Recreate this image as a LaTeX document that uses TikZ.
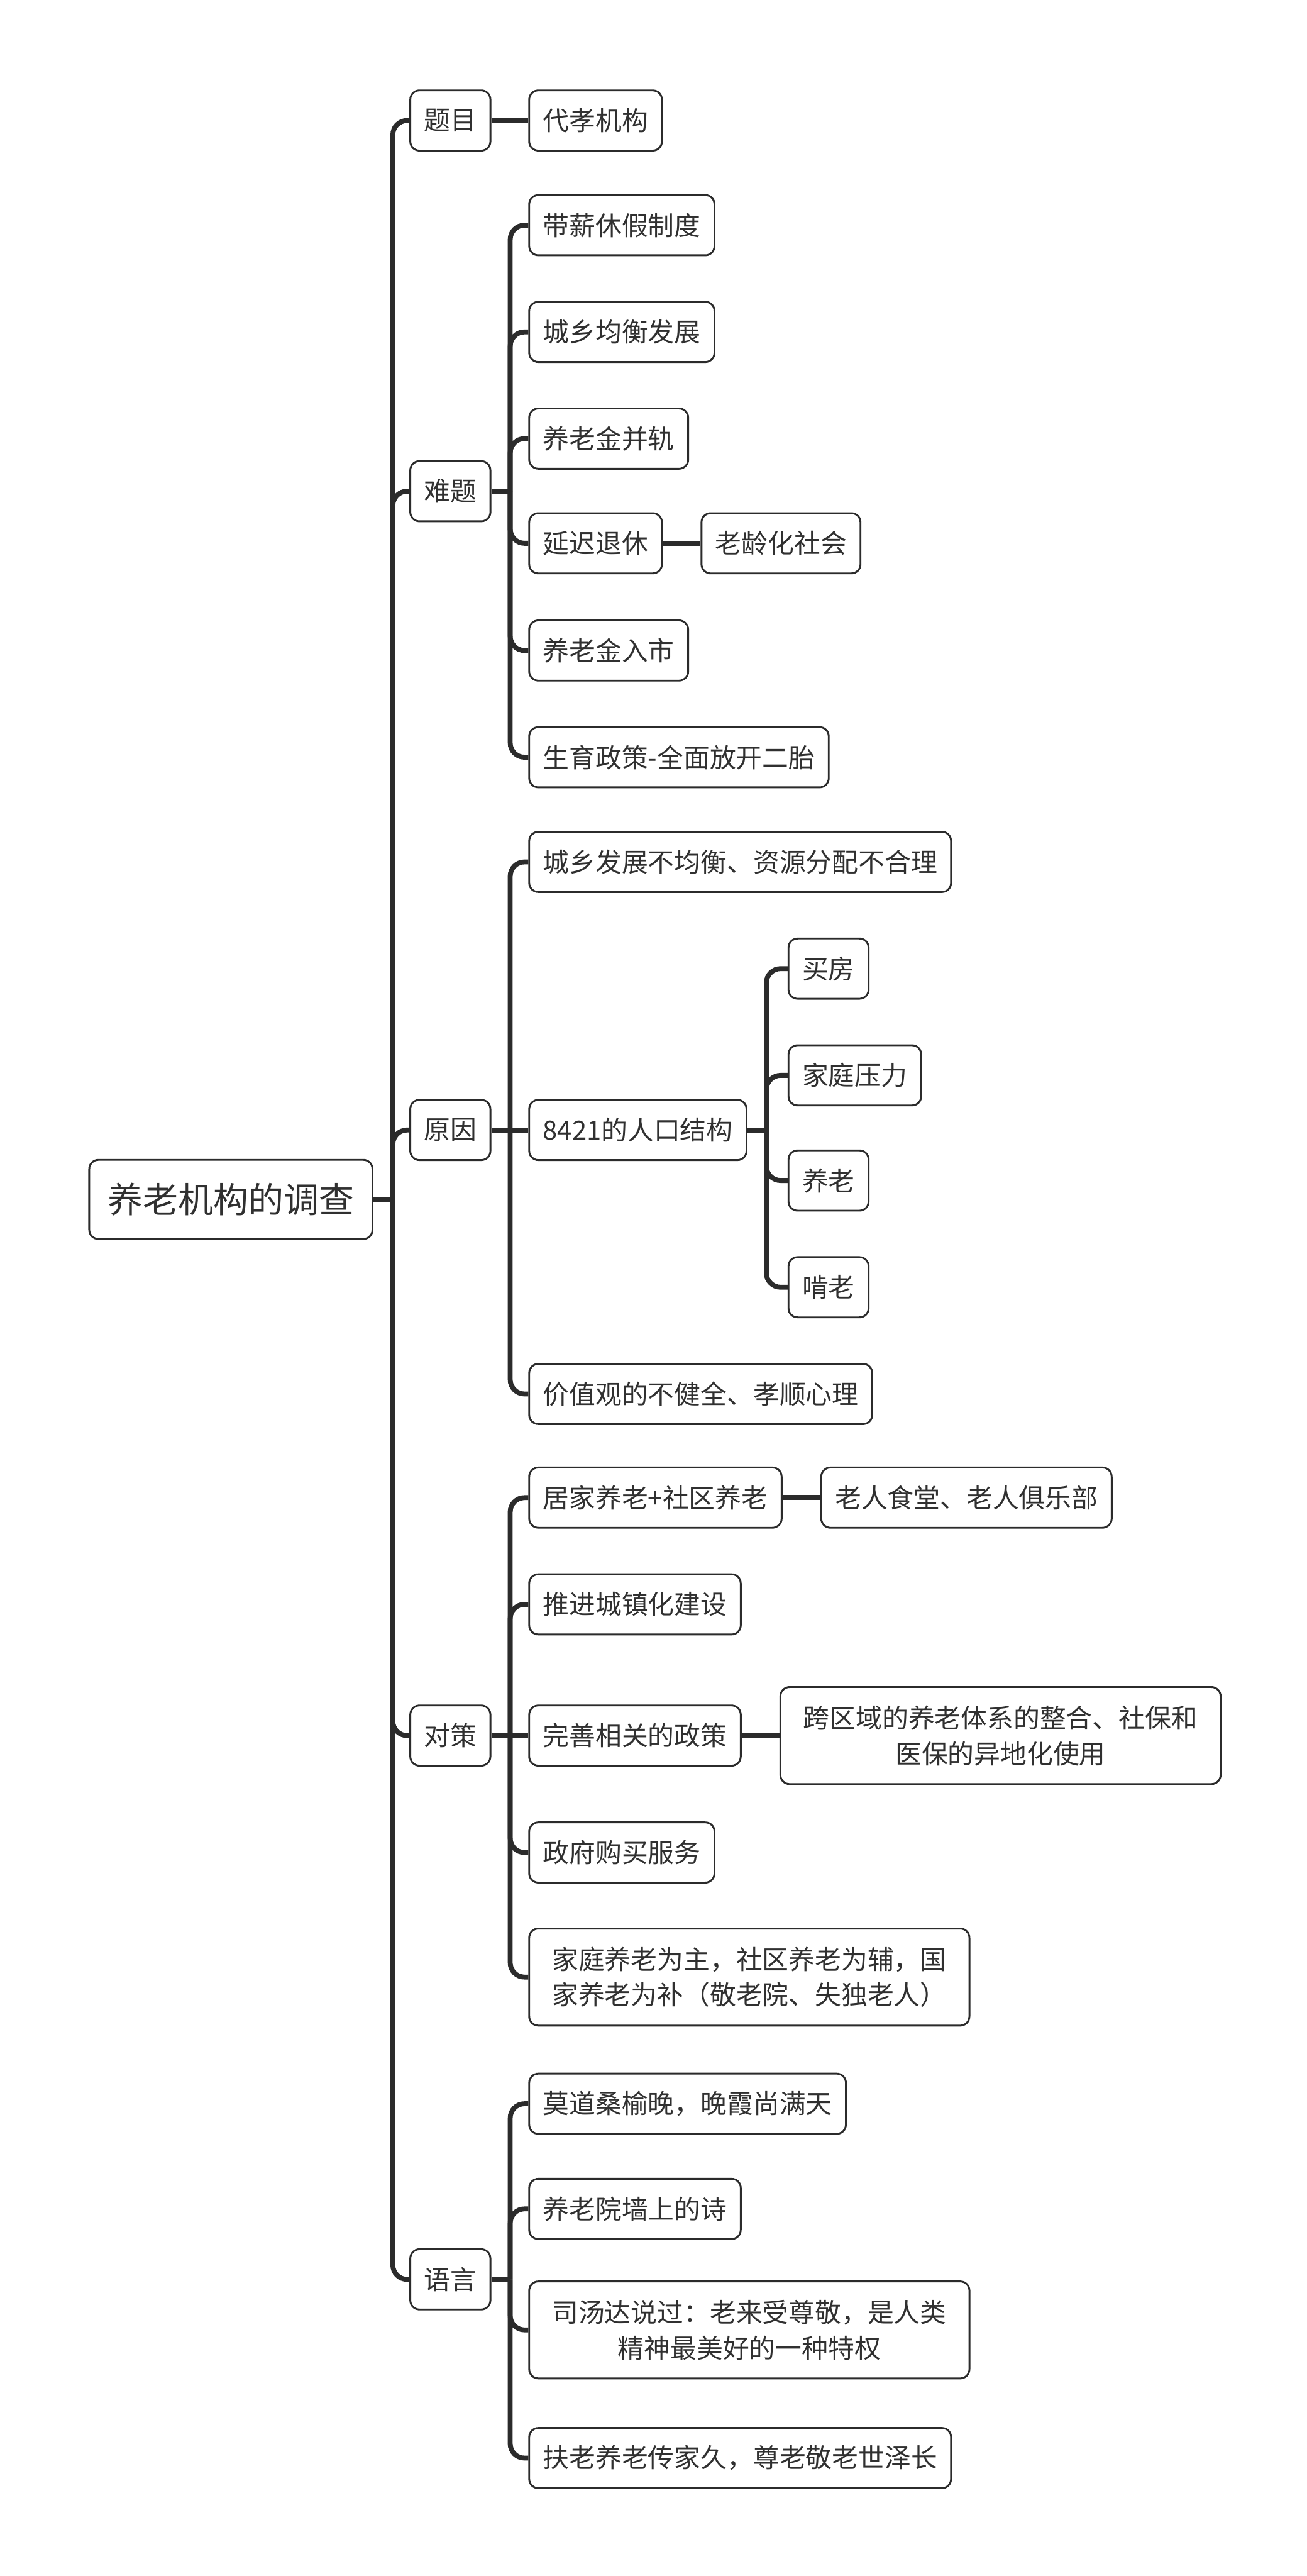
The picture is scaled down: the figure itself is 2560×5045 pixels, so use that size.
\documentclass[tikz,border=0pt]{standalone}
\usepackage{fontspec}
\setmainfont{Noto Sans CJK SC}
\usetikzlibrary{calc}
\definecolor{ln}{HTML}{2B2B2B}
\definecolor{tx}{HTML}{303030}
\tikzset{
  box/.style={draw=ln, line width=0.9pt, rounded corners=4.5pt, fill=white, text=tx,
    anchor=west, inner xsep=6.75pt, inner ysep=0pt, minimum height=29.5pt,
    font=\fontsize{12.875pt}{17.5pt}\selectfont},
  rootbox/.style={box, inner xsep=9pt, minimum height=38.75pt,
    font=\fontsize{17.25pt}{21pt}\selectfont},
  multi/.style={box, align=center, minimum height=47.5pt, inner xsep=11.25pt},
  edge/.style={draw=ln, line width=2.4pt},
  branch/.style={edge, rounded corners=7pt},
}
\begin{document}
\begin{tikzpicture}[x=0.25pt,y=-0.25pt]
\useasboundingbox (0,0) rectangle (2560,5045);
% root
\node[rootbox] (root) at (173,2349) {养老机构的调查};
% level 1
\node[box] (la) at (802,236) {题目};
\node[box] (lb) at (802,962) {难题};
\node[box] (lc) at (802,2213) {原因};
\node[box] (ld) at (802,3399) {对策};
\node[box] (le) at (802,4464) {语言};
% level 2
\node[box] (a1) at (1035,236) {代孝机构};
\node[box] (b1) at (1035,441) {带薪休假制度};
\node[box] (b2) at (1035,650) {城乡均衡发展};
\node[box] (b3) at (1035,859) {养老金并轨};
\node[box] (b4) at (1035,1064) {延迟退休};
\node[box] (b4a) at ($(b4.east)+(74,0)$) {老龄化社会};
\node[box] (b5) at (1035,1274) {养老金入市};
\node[box] (b6) at (1035,1483) {生育政策-全面放开二胎};
\node[box] (c1) at (1035,1688) {城乡发展不均衡、资源分配不合理};
\node[box] (c2) at (1035,2213) {8421的人口结构};
\node[box] (c2a) at (1543,1897) {买房};
\node[box] (c2b) at (1543,2106) {家庭压力};
\node[box] (c2c) at (1543,2312) {养老};
\node[box] (c2d) at (1543,2521) {啃老};
\node[box] (c3) at (1035,2730) {价值观的不健全、孝顺心理};
\node[box] (d1) at (1035,2933) {居家养老+社区养老};
\node[box] (d1a) at ($(d1.east)+(74,0)$) {老人食堂、老人俱乐部};
\node[box] (d2) at (1035,3142) {推进城镇化建设};
\node[box] (d3) at (1035,3399) {完善相关的政策};
\node[multi] (d3a) at ($(d3.east)+(74,0)$) {跨区域的养老体系的整合、社保和\\医保的异地化使用};
\node[box] (d4) at (1035,3628) {政府购买服务};
\node[multi] (d5) at (1035,3872) {家庭养老为主，社区养老为辅，国\\家养老为补（敬老院、失独老人）};
\node[box] (e1) at (1035,4120) {莫道桑榆晚，晚霞尚满天};
\node[box] (e2) at (1035,4326) {养老院墙上的诗};
\node[multi] (e3) at (1035,4563) {司汤达说过：老来受尊敬，是人类\\精神最美好的一种特权};
\node[box] (e4) at (1035,4814) {扶老养老传家久，尊老敬老世泽长};
% trunk points
\coordinate (t0) at ($(root.east)+(38,0)$);
\coordinate (tb) at ($(lb.east)+(37,0)$);
\coordinate (tc) at ($(lc.east)+(37,0)$);
\coordinate (td) at ($(ld.east)+(37,0)$);
\coordinate (te) at ($(le.east)+(37,0)$);
\coordinate (tc2) at ($(c2.east)+(37,0)$);
% edges
\draw[edge] (root.east) -- (t0);
\foreach \c in {la,lb,lc,ld,le} \draw[branch] (t0) |- (\c.west);
\draw[edge] (la.east) -- (a1.west);
\draw[edge] (lb.east) -- (tb);
\foreach \c in {b1,b2,b3,b4,b5,b6} \draw[branch] (tb) |- (\c.west);
\draw[edge] (b4.east) -- (b4a.west);
\draw[edge] (lc.east) -- (c2.west);
\foreach \c in {c1,c3} \draw[branch] (tc) |- (\c.west);
\draw[edge] (c2.east) -- (tc2);
\foreach \c in {c2a,c2b,c2c,c2d} \draw[branch] (tc2) |- (\c.west);
\draw[edge] (ld.east) -- (d3.west);
\foreach \c in {d1,d2,d4,d5} \draw[branch] (td) |- (\c.west);
\draw[edge] (d1.east) -- (d1a.west);
\draw[edge] (d3.east) -- (d3a.west);
\draw[edge] (le.east) -- (te);
\foreach \c in {e1,e2,e3,e4} \draw[branch] (te) |- (\c.west);
\end{tikzpicture}
\end{document}
